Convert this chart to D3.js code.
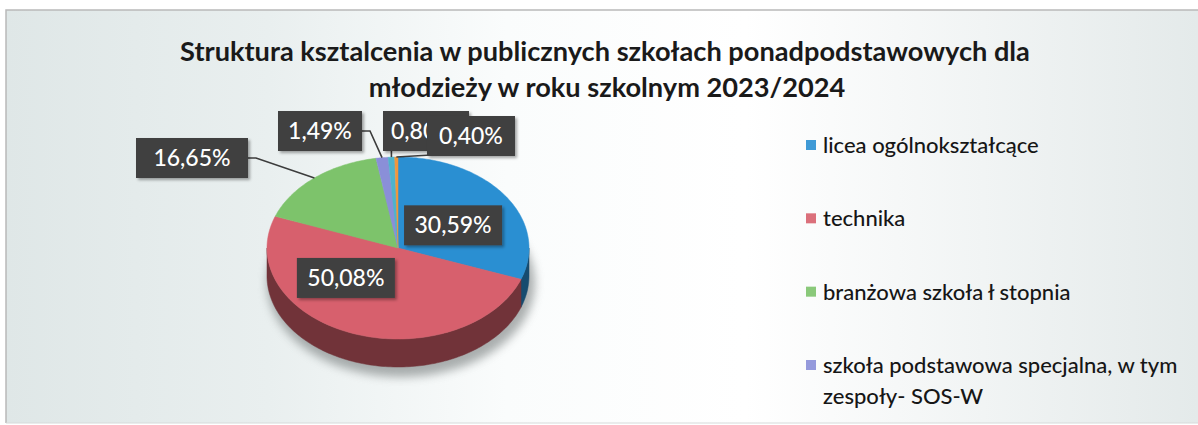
<!DOCTYPE html>
<html>
<head>
<meta charset="utf-8">
<script src="https://cdn.jsdelivr.net/npm/d3@7"></script>
<style>
  body { margin: 0; background: #fff; }
  svg { display: block; }
</style>
</head>
<body>
<svg width="1198" height="425"></svg>
<script>
// data
var values = [30.59, 50.08, 16.65, 1.49, 0.80, 0.40];
var valueLabels = ["30,59%", "50,08%", "16,65%", "1,49%", "0,80%", "0,40%"];
var legendNames = [
  ["licea ogólnokształcące"],
  ["technika"],
  ["branżowa szkoła ł stopnia"],
  ["szkoła podstawowa specjalna, w tym", "zespoły- SOS-W"]
];
var titleLines = [
  "Struktura ksztalcenia w publicznych szkołach ponadpodstawowych dla",
  "młodzieży w roku szkolnym 2023/2024"
];

var colors = ["#2a8fd2", "#d7606d", "#7dc36b", "#8a8fd8", "#4db3cc", "#f0963c"];

// layout
var width = 1198, height = 425;
var cx = 398, cy = 248, rx = 131, ry = 91, depth = 28;

// label boxes - inside labels sit near the centroid, outside ones are placed above
var boxLayout = [
  {k: 0.55, dx: -4, dy: 6, w: 98},
  {k: 0.62, dx: -24, dy: -23, w: 98},
  {x: 192, y: 158, w: 112},
  {x: 320, y: 131, w: 84},
  {x: 426, y: 131, w: 86},
  {x: 471, y: 136, w: 88}
];

var svg = d3.select("svg");
var defs = svg.append("defs");

var bg = defs.append("linearGradient").attr("id", "bg").attr("x1", "0").attr("x2", "1").attr("y1", "0").attr("y2", "0");
[["0%", "#dfe7e7"], ["22%", "#e9efef"], ["42%", "#fafcfc"], ["62%", "#ffffff"], ["82%", "#f1f4f4"], ["100%", "#e4eaea"]]
  .forEach(function (s) { bg.append("stop").attr("offset", s[0]).attr("stop-color", s[1]); });

var blur = defs.append("filter").attr("id", "blur").attr("x", "-20%").attr("y", "-20%").attr("width", "140%").attr("height", "140%");
blur.append("feGaussianBlur").attr("stdDeviation", 5);

var boxShadow = defs.append("filter").attr("id", "boxShadow").attr("x", "-20%").attr("y", "-20%").attr("width", "150%").attr("height", "150%");
boxShadow.append("feDropShadow").attr("dx", 2).attr("dy", 2).attr("stdDeviation", 1.5)
  .attr("flood-color", "#000").attr("flood-opacity", 0.35);

// 0,80% label is partly hidden behind the 0,40% box, as in the original
defs.append("clipPath").attr("id", "clip4").append("rect")
  .attr("x", 376).attr("y", 100).attr("width", 51).attr("height", 60);

// chart area background + frame
svg.append("rect").attr("x", 6).attr("y", 10).attr("width", width - 6).attr("height", 413)
  .attr("fill", "url(#bg)");
svg.append("path").attr("d", "M6,423 V10 H" + width).attr("fill", "none").attr("stroke", "#b9b9b9").attr("stroke-width", 1.5);
svg.append("line").attr("x1", 6).attr("x2", width).attr("y1", 423).attr("y2", 423).attr("stroke", "#d6dada");

// title
var title = svg.append("g").attr("font-family", "Lato, 'Open Sans', sans-serif").attr("font-weight", 700)
  .attr("fill", "#1a1a1a").attr("text-anchor", "middle");
var t1 = title.append("text").attr("x", 605).attr("y", 61).attr("font-size", 24).text(titleLines[0]);
var fs = 24 * 850 / t1.node().getComputedTextLength();
t1.attr("font-size", fs);
title.append("text").attr("x", 607).attr("y", 97).attr("font-size", fs).text(titleLines[1]);

// pie angles
var pie = d3.pie().sort(null).value(function (d) { return d; });
var arcs = pie(values);

function pt(a, k, off) {
  return [cx + k * rx * Math.sin(a), cy - k * ry * Math.cos(a) + (off || 0)];
}
function arcPts(a0, a1, off) {
  var n = Math.max(2, Math.ceil((a1 - a0) / 0.02));
  var p = [];
  for (var i = 0; i <= n; i++) p.push(pt(a0 + (a1 - a0) * i / n, 1, off));
  return p;
}
var line = d3.line();

// shadow under the pie
svg.append("ellipse").attr("cx", cx + 3).attr("cy", cy + depth + 7).attr("rx", rx + 3).attr("ry", ry + 3)
  .attr("fill", "#767b7c").attr("opacity", 0.6).attr("filter", "url(#blur)");

// side walls (front half only)
var sides = svg.append("g");
arcs.forEach(function (d, i) {
  var a0 = Math.max(d.startAngle, Math.PI / 2), a1 = Math.min(d.endAngle, 3 * Math.PI / 2);
  if (a1 <= a0) return;
  var top = arcPts(a0, a1, 0), bot = arcPts(a0, a1, depth).reverse();
  var sc = d3.color(colors[i]).darker(1.8);
  sides.append("path").attr("d", line(top.concat(bot)) + "Z")
    .attr("fill", sc).attr("stroke", sc).attr("stroke-width", 0.5);
});

// top faces
var tops = svg.append("g");
arcs.forEach(function (d, i) {
  var p = [[cx, cy]].concat(arcPts(d.startAngle, d.endAngle, 0));
  tops.append("path").attr("d", line(p) + "Z")
    .attr("fill", colors[i]).attr("stroke", colors[i]).attr("stroke-width", 0.5);
});

// leader lines + label boxes
var labelsG = svg.append("g").attr("font-family", "Lato, 'Open Sans', sans-serif");
arcs.forEach(function (d, i) {
  var L = boxLayout[i];
  var mid = (d.startAngle + d.endAngle) / 2;
  var bx, by;
  if (L.k !== undefined) {
    var c = pt(mid, L.k);
    bx = c[0] + L.dx; by = c[1] + L.dy;
  } else {
    bx = L.x; by = L.y;
    var e = pt(mid, 1);
    var path;
    if (bx + L.w / 2 < e[0] - 10) {
      path = [[bx + L.w / 2, by], [bx + L.w / 2 + 8, by], e];
    } else {
      path = [[Math.min(Math.max(e[0], bx - L.w / 2 + 4), bx + L.w / 2), by + 19], e];
    }
    labelsG.append("path").attr("d", line(path)).attr("fill", "none")
      .attr("stroke", "#3c3c3c").attr("stroke-width", 1.6);
  }
  var g = labelsG.append("g").attr("transform", "translate(" + bx + "," + by + ")");
  g.append("rect").attr("x", -L.w / 2).attr("y", -20).attr("width", L.w).attr("height", 40)
    .attr("fill", "#404040").attr("filter", "url(#boxShadow)");
  var t = labelsG.append("text").attr("x", i === 4 ? bx - L.w / 2 + 8 : bx).attr("y", by + 8)
    .attr("text-anchor", i === 4 ? "start" : "middle")
    .attr("font-size", 23).attr("font-weight", 500).attr("fill", "#fff").text(valueLabels[i]);
  if (i === 4) t.attr("clip-path", "url(#clip4)");
});

// legend
var legend = svg.append("g").attr("font-family", "Lato, 'Open Sans', sans-serif").attr("font-size", 22)
  .attr("font-weight", 500).attr("fill", "#161616");
var rowY = d3.scalePoint().domain(d3.range(legendNames.length)).range([146, 366]);
legendNames.forEach(function (lines, i) {
  var y = rowY(i);
  legend.append("rect").attr("x", 806).attr("y", y - 6).attr("width", 10).attr("height", 10)
    .attr("fill", colors[i]).attr("opacity", 0.9);
  lines.forEach(function (s, j) {
    legend.append("text").attr("x", 823).attr("y", y + 7 + j * 31).text(s);
  });
});
</script>
</body>
</html>
